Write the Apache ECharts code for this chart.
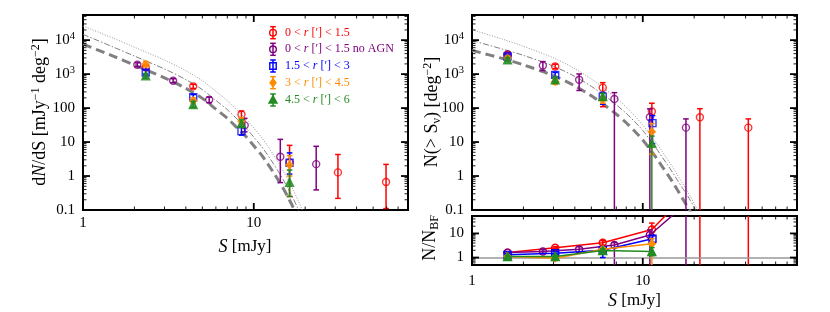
<!DOCTYPE html>
<html><head><meta charset="utf-8">
<script src="https://cdn.jsdelivr.net/npm/echarts@6/dist/echarts.min.js"></script>
<style>html,body{margin:0;padding:0;background:#fff}#c{width:830px;height:312px}</style>
</head><body><div id="c"></div>
<script>
// ---------- model curves ----------
const modelS = [1,1.5,2,3,4,5,6,7,8,9,10,11,12,13,14,15,16,17,18,19,20];
const diffBest    = [7600,3400,1850,780,380,193,93,50,26,14.5,7.8,4.4,2.4,1.3,0.72,0.40,0.22,0.12,0.065,0.035,0.02];
const diffDashDot = [14800,6300,3400,1420,690,350,168,90,47,26,14,7.9,4.3,2.35,1.3,0.72,0.40,0.22,0.12,0.065,0.035];
const diffDotted  = [26000,11500,6200,2600,1260,640,310,165,86,48,26,14.5,7.9,4.3,2.4,1.3,0.73,0.40,0.21,0.115,0.062];
const cumS = [1,1.5,2,3,4,5,6,7,8,9,10,11,12,13,14,15,16,17,18,19,20,21,22,23];
const cumBest    = [5000,2900,1880,900,450,230,120,66,37,20.5,11.5,6.2,3.4,1.9,1.1,0.65,0.38,0.23,0.14,0.09,0.055,0.034,0.021,0.013];
const cumDashDot = [9800,5500,3570,1710,855,437,228,125,70,39,22,11.8,6.5,3.6,2.1,1.24,0.74,0.46,0.30,0.19,0.12,0.075,0.046,0.028];
const cumDotted  = [20300,10800,6600,3000,1450,720,365,195,107,58,32,17,9.4,5.3,3.0,1.8,1.05,0.64,0.40,0.25,0.155,0.097,0.06,0.037];

// ---------- dN/dS (left) ----------
const dRedS = [2.33,4.42,8.47,16.2,31.1,59.5];
const dRedV = [1570,437,65,2.5,1.28,0.67];
const dRedLo = [1350,380,50,0.25,0.22,0.11];
const dRedHi = [1800,500,82,8.0,4.3,2.2];
const dPurS = [2.08,3.37,5.48,8.85,14.3,23.2];
const dPurV = [1880,640,175,31,3.7,2.24];
const dPurLo = [1650,560,145,20,0.64,0.39];
const dPurHi = [2150,730,210,50,12,7.5];
const dBluS = [2.33,4.42,8.47,16.2];
const dBluV = [1120,208,21,2.45];
const dBluLo = [950,175,16,1.14];
const dBluHi = [1320,250,28,4.8];
const dOrgS = [2.33,4.42,8.47,16.2];
const dOrgV = [1970,167,41,2.1];
const dOrgLo = [1650,140,33,1.0];
const dOrgHi = [2350,200,52,4.0];
const dGrnS = [2.33,4.42,8.47,16.2];
const dGrnV = [890,127,35,0.65];
const dGrnLo = [760,105,27,0.25];
const dGrnHi = [1040,155,45,1.5];

// ---------- N(>S) (right) ----------
const cRedS = [1.615,3.07,5.83,11.3,21.6,41.5];
const cRedV = [3700,1680,400,79,54,26.6];
const cRedLo = [3300,1450,110,20,0.001,0.001];
const cRedHi = [4200,1950,560,139,96,48];
const cPurS = [1.615,2.6,4.24,6.82,11.0,17.9];
const cPurV = [3800,1780,680,186,54,26.6];
const cPurLo = [3400,1280,330,0.001,0.001,0.001];
const cPurHi = [4300,2340,1010,285,95,48];
const cBluS = [1.615,3.07,5.83,11.4];
const cBluV = [3300,950,218,36];
const cBluLo = [2950,800,130,9];
const cBluHi = [3700,1120,290,60];
const cOrgS = [1.615,3.07,5.83,11.3];
const cOrgV = [3000,600,175,20];
const cOrgLo = [2650,500,140,4.4];
const cOrgHi = [3400,720,220,35];
const cGrnS = [1.615,3.07,5.83,11.3];
const cGrnV = [2650,680,220,9.2];
const cGrnLo = [2350,580,175,0.001];
const cGrnHi = [3000,800,270,15];

// ---------- N/N_BF (ratio) ----------
const rRedS = [1.615,3.07,5.83,11.3,21.6,41.5];
const rRedV = [1.6,2.55,4.1,14.5,1600,30000];
const rRedLo = [1.45,2.3,3.3,9,0.001,0.001];
const rRedHi = [1.75,2.85,5.0,27,1e6,1e7];
const rPurS = [1.615,2.6,4.24,6.82,11.0,17.9];
const rPurV = [1.6,1.77,2.2,3.33,8.6,170];
const rPurLo = [1.45,1.5,1.6,0.001,0.001,0.001];
const rPurHi = [1.75,2.1,2.8,4.2,14,1e6];
const rBluS = [1.615,3.07,5.83,11.4];
const rBluV = [1.29,1.52,2.0,6.0];
const rBluLo = [1.15,1.3,1.0,4.0];
const rBluHi = [1.45,1.75,2.6,8.0];
const rOrgS = [1.615,3.07,5.83,11.3];
const rOrgV = [1.1,0.94,2.2,3.7];
const rOrgLo = [1.0,0.85,1.8,0.001];
const rOrgHi = [1.2,1.05,2.6,6];
const rGrnS = [1.615,3.07,5.83,11.3];
const rGrnV = [1.1,1.1,1.94,1.77];
const rGrnLo = [1.0,0.95,1.6,1.2];
const rGrnHi = [1.2,1.25,2.3,2.6];

// ---------- ticks ----------
const xMajorTicks = [1,10];
const xMinorTicks = [2,3,4,5,6,7,8,9,20,30,40,50,60,70];
const yMajorMain = [0.1,1,10,100,1000,10000];
const yMinorMain = [];
[0.1,1,10,100,1000,10000].forEach(d=>{for(let k=2;k<=9;k++){ if(d*k<=55000) yMinorMain.push(d*k);} });
const yMajorRatio = [1,10];
const yMinorRatio = [0.5,0.6,0.7,0.8,0.9,2,3,4,5,6,7,8,9,20,30,40,50];

const legendNames = ['0 < {i|r} [′] < 1.5','0 < {i|r} [′] < 1.5 no AGN','1.5 < {i|r} [′] < 3','3 < {i|r} [′] < 4.5','4.5 < {i|r} [′] < 6'];
const colors = ['#ff0000','#800080','#0000ff','#ff8c00','#228b22'];
const symbols = ['circle','circle','rect','diamond','triangle'];
const filled = [false,false,false,true,true];
const symSizes = [7,7,7,7,8];

const FONT = '"Liberation Serif","DejaVu Serif",serif';

function zip(a,b){return a.map((v,i)=>[v,b[i]]);}
function zip3(a,b,c){return a.map((v,i)=>[v,b[i],c[i]]);}

function labelFmt(v){
  const l=Math.log10(v), r=Math.round(l);
  if(Math.abs(l-r)>1e-6) return '';
  if(r>=3) return '10{sup|'+r+'}';
  if(r<0) return v.toFixed(-r);
  return String(Math.round(v));
}
const labelRich = {sup:{fontSize:10.5,fontFamily:FONT,color:'#000',padding:[0,0,8,0]}};

function xAx(grid, show, margin){
  return {type:'log',logBase:10,gridIndex:grid,min:1,max:80,
    axisLine:{show:false},axisTick:{show:false},splitLine:{show:false},minorTick:{show:false},
    axisLabel:{show:show,formatter:labelFmt,fontFamily:FONT,fontSize:15,color:'#000',margin:margin,rich:labelRich,showMinLabel:true}};
}
function yAx(grid,min,max){
  return {type:'log',logBase:10,gridIndex:grid,min:min,max:max,
    axisLine:{show:false},axisTick:{show:false},splitLine:{show:false},minorTick:{show:false},
    axisLabel:{formatter:labelFmt,fontFamily:FONT,fontSize:15,color:'#000',margin:8,rich:labelRich}};
}

function errRender(color){
  return function(params, api){
    const x=api.value(0), lo=api.value(1), hi=api.value(2);
    const p1=api.coord([x,lo]), p2=api.coord([x,hi]);
    const st={stroke:color,lineWidth:1.5};
    const c=2.8;
    return {type:'group',children:[
      {type:'line',shape:{x1:p1[0],y1:p1[1],x2:p2[0],y2:p2[1]},style:st},
      {type:'line',shape:{x1:p1[0]-c,y1:p1[1],x2:p1[0]+c,y2:p1[1]},style:st},
      {type:'line',shape:{x1:p2[0]-c,y1:p2[1],x2:p2[0]+c,y2:p2[1]},style:st}
    ]};
  };
}
function xTickRender(params, api){
  const v=api.value(0), major=api.value(2);
  const cs=params.coordSys;
  const px=api.coord([v,api.value(1)])[0];
  const len=major?7:3.5, w=major?1.8:0.9;
  const st={stroke:'#000',lineWidth:w};
  return {type:'group',children:[
    {type:'line',shape:{x1:px,y1:cs.y+cs.height,x2:px,y2:cs.y+cs.height-len},style:st},
    {type:'line',shape:{x1:px,y1:cs.y,x2:px,y2:cs.y+len},style:st}
  ]};
}
function yTickRender(params, api){
  const v=api.value(1), major=api.value(2);
  const cs=params.coordSys;
  const py=api.coord([api.value(0),v])[1];
  const len=major?7:3.5, w=major?1.8:0.9;
  const st={stroke:'#000',lineWidth:w};
  return {type:'group',children:[
    {type:'line',shape:{x1:cs.x,y1:py,x2:cs.x+len,y2:py},style:st},
    {type:'line',shape:{x1:cs.x+cs.width,y1:py,x2:cs.x+cs.width-len,y2:py},style:st}
  ]};
}

const series=[];
function tickSeries(ai, yMaj, yMin){
  const xd = xMajorTicks.map(v=>[v,1,1]).concat(xMinorTicks.map(v=>[v,1,0]));
  const yd = yMaj.map(v=>[2,v,1]).concat(yMin.map(v=>[2,v,0]));
  series.push({type:'custom',xAxisIndex:ai,yAxisIndex:ai,data:xd,renderItem:xTickRender,silent:true,z:10,clip:false});
  series.push({type:'custom',xAxisIndex:ai,yAxisIndex:ai,data:yd,renderItem:yTickRender,silent:true,z:10,clip:false});
}
function curveSeries(ai, S, best, dd, dot){
  series.push({type:'line',xAxisIndex:ai,yAxisIndex:ai,data:zip(S,dot),symbol:'none',smooth:0.3,clip:true,silent:true,
    lineStyle:{color:'#8a8a8a',width:0.9,type:[1,1.6]},z:2});
  series.push({type:'line',xAxisIndex:ai,yAxisIndex:ai,data:zip(S,dd),symbol:'none',smooth:0.3,clip:true,silent:true,
    lineStyle:{color:'#707070',width:0.9,type:[6,2,1.5,2]},z:2});
  series.push({type:'line',xAxisIndex:ai,yAxisIndex:ai,data:zip(S,best),symbol:'none',smooth:0.3,clip:true,silent:true,
    lineStyle:{color:'#808080',width:3,type:[9,5]},z:2});
}
function groupSeries(ai, gi, S, V, Lo, Hi, withLine){
  const col=colors[gi];
  series.push({type:'custom',xAxisIndex:ai,yAxisIndex:ai,data:zip3(S,Lo,Hi),renderItem:errRender(col),
    encode:{x:0,y:[1,2]},clip:true,silent:true,z:3+gi});
  series.push({type:withLine?'line':'scatter',xAxisIndex:ai,yAxisIndex:ai,data:zip(S,V),
    symbol:symbols[gi],symbolSize:symSizes[gi],showSymbol:true,clip:true,silent:true,z:3+gi,
    lineStyle:{color:col,width:1.5},
    itemStyle:{color:filled[gi]?col:'rgba(0,0,0,0)',borderColor:col,borderWidth:1.4}});
}

tickSeries(0, yMajorMain, yMinorMain);
tickSeries(1, yMajorMain, yMinorMain);
tickSeries(2, yMajorRatio, yMinorRatio);

curveSeries(0, modelS, diffBest, diffDashDot, diffDotted);
curveSeries(1, cumS, cumBest, cumDashDot, cumDotted);

const dSets=[[dRedS,dRedV,dRedLo,dRedHi],[dPurS,dPurV,dPurLo,dPurHi],[dBluS,dBluV,dBluLo,dBluHi],[dOrgS,dOrgV,dOrgLo,dOrgHi],[dGrnS,dGrnV,dGrnLo,dGrnHi]];
const cSets=[[cRedS,cRedV,cRedLo,cRedHi],[cPurS,cPurV,cPurLo,cPurHi],[cBluS,cBluV,cBluLo,cBluHi],[cOrgS,cOrgV,cOrgLo,cOrgHi],[cGrnS,cGrnV,cGrnLo,cGrnHi]];
const rSets=[[rRedS,rRedV,rRedLo,rRedHi],[rPurS,rPurV,rPurLo,rPurHi],[rBluS,rBluV,rBluLo,rBluHi],[rOrgS,rOrgV,rOrgLo,rOrgHi],[rGrnS,rGrnV,rGrnLo,rGrnHi]];

// reference line N/N_BF = 1
series.push({type:'line',xAxisIndex:2,yAxisIndex:2,data:[],silent:true,
  markLine:{silent:true,symbol:'none',label:{show:false},data:[{yAxis:1}],lineStyle:{color:'#999999',width:1.6,type:'solid'},animation:false},z:2});

dSets.forEach((d,i)=>groupSeries(0,i,d[0],d[1],d[2],d[3],false));
cSets.forEach((d,i)=>groupSeries(1,i,d[0],d[1],d[2],d[3],false));
rSets.forEach((d,i)=>groupSeries(2,i,d[0],d[1],d[2],d[3],true));

// legend graphics
const legY=[32.7,49.3,66,82.7,100], legX=273, legTX=285;
const gfx=[];
legendNames.forEach((n,i)=>{
  const y=legY[i], c=colors[i], st={stroke:c,lineWidth:1.5};
  gfx.push({type:'line',shape:{x1:legX,y1:y-6,x2:legX,y2:y+6},style:st});
  gfx.push({type:'line',shape:{x1:legX-2.8,y1:y-6,x2:legX+2.8,y2:y-6},style:st});
  gfx.push({type:'line',shape:{x1:legX-2.8,y1:y+6,x2:legX+2.8,y2:y+6},style:st});
  const ms={stroke:c,lineWidth:1.4,fill:filled[i]?c:'none'};
  if(symbols[i]==='circle') gfx.push({type:'circle',shape:{cx:legX,cy:y,r:3.3},style:ms});
  else if(symbols[i]==='rect') gfx.push({type:'rect',shape:{x:legX-3.2,y:y-3.2,width:6.4,height:6.4},style:ms});
  else if(symbols[i]==='diamond') gfx.push({type:'polygon',shape:{points:[[legX,y-4],[legX+3,y],[legX,y+4],[legX-3,y]]},style:ms});
  else gfx.push({type:'polygon',shape:{points:[[legX,y-4.2],[legX+4,y+3],[legX-4,y+3]]},style:ms});
  gfx.push({type:'text',x:legTX,y:y,style:{text:n,fill:c,font:'12px '+FONT,verticalAlign:'middle',align:'left',
    rich:{i:{fontStyle:'italic',fill:c,fontFamily:FONT,fontSize:12}}}});
});
const titleRich = {
  i:{fontStyle:'italic',fontFamily:FONT,fontSize:18,fill:'#000'},
  sup:{fontFamily:FONT,fontSize:12,fill:'#000',padding:[0,0,9,0]},
  sub:{fontFamily:FONT,fontSize:12,fill:'#000',padding:[9,0,0,0]}
};
function title(x,y,text,rot,fs){
  gfx.push({type:'text',x:x,y:y,rotation:rot,style:{text:text,font:fs+'px '+FONT,fill:'#000',align:'center',verticalAlign:'middle',rich:titleRich}});
}
title(40,112,'d{i|N}/dS [mJy{sup|−1} deg{sup|−2}]',Math.PI/2,18);
title(432,112,'N(> S{sub|ν}) [deg{sup|−2}]',Math.PI/2,18);
title(430,238,'N/N{sub|BF}',Math.PI/2,18);
title(245,247,'{i|S} [mJy]',0,17);
title(634.5,301,'{i|S} [mJy]',0,17);

const option={
  animation:false,
  backgroundColor:'#ffffff',
  textStyle:{fontFamily:FONT},
  grid:[
    {left:83,top:15,width:325,height:195,show:true,borderColor:'#000',borderWidth:2,backgroundColor:'transparent'},
    {left:472,top:15,width:325,height:195,show:true,borderColor:'#000',borderWidth:2,backgroundColor:'transparent'},
    {left:472,top:216,width:325,height:49,show:true,borderColor:'#000',borderWidth:2,backgroundColor:'transparent'}
  ],
  xAxis:[xAx(0,true,6),xAx(1,false,6),xAx(2,true,9)],
  yAxis:[yAx(0,0.1,55000),yAx(1,0.1,55000),yAx(2,0.49,53)],
  series:series,
  graphic:gfx
};
const chart=echarts.init(document.getElementById('c'),null,{renderer:'canvas',width:830,height:312});
chart.setOption(option);
</script></body></html>
